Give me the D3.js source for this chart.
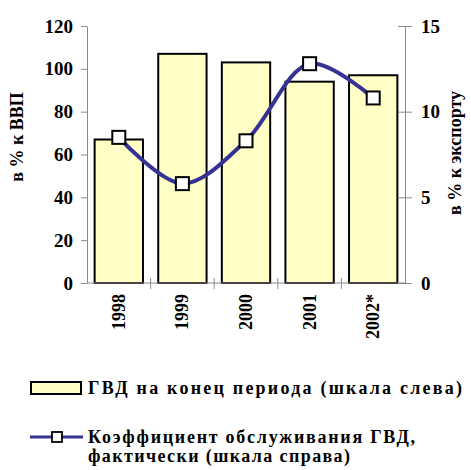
<!DOCTYPE html>
<html>
<head>
<meta charset="utf-8">
<script src="https://cdn.jsdelivr.net/npm/d3@7"></script>
<style>
  html, body { margin: 0; padding: 0; background: #fff; }
  svg { display: block; }
</style>
</head>
<body>
<svg id="chart" width="471" height="470"></svg>
<script>
// Years on the category axis
const years = ["1998", "1999", "2000", "2001", "2002*"];
// External public debt at end of period, % of GDP (left scale)
const debtGdp = [67, 107, 103, 94, 97];
// Debt service ratio, actual, % of exports (right scale)
const serviceRatio = [8.5, 5.8, 8.3, 12.8, 10.8];
// Tick values for both value axes
const leftTicks = [0, 20, 40, 60, 80, 100, 120];
const rightTicks = [0, 5, 10, 15];
// Texts
const leftTitle = "в % к ВВП";
const rightTitle = "в % к экспорту";
const legendBar = "ГВД на конец периода (шкала слева)";
const legendLine1 = "Коэффициент обслуживания ГВД,";
const legendLine2 = "фактически (шкала справа)";

const FONT = "Liberation Serif";
const svg = d3.select("#chart");
const plot = { left: 87, right: 405, top: 26, bottom: 283 };

const x = d3.scaleBand().domain(years).range([plot.left, plot.right]).paddingInner(0.24).paddingOuter(0.12);
const xBoundary = d3.scaleBand().domain(years).range([plot.left, plot.right]);
const yL = d3.scaleLinear().domain([0, 120]).range([plot.bottom, plot.top]);
const yR = d3.scaleLinear().domain([0, 15]).range([plot.bottom, plot.top]);

const axisColor = "#8a8a8a";

function styleText(sel, size) {
  sel.attr("font-family", FONT).attr("font-weight", "bold").attr("font-size", size).attr("fill", "#000")
    .style("font-family", FONT).style("font-weight", "bold").style("font-size", size + "px");
}

// Bars
svg.append("g").selectAll("rect").data(debtGdp).join("rect")
  .attr("x", (d, i) => x(years[i]))
  .attr("width", x.bandwidth())
  .attr("y", d => yL(d))
  .attr("height", d => yL(0) - yL(d))
  .attr("fill", "#ffffc6")
  .attr("stroke", "#000")
  .attr("stroke-width", 2);

// Left axis
const gL = svg.append("g").attr("transform", `translate(${plot.left},0)`)
  .call(d3.axisLeft(yL).tickValues(leftTicks).tickSize(6).tickPadding(8).tickSizeOuter(0));
gL.attr("font-family", FONT);
gL.select(".domain").attr("stroke", axisColor);
gL.selectAll(".tick line").attr("stroke", axisColor);
styleText(gL.selectAll(".tick text"), 19);

// Right axis (ticks cross the axis line)
const gR = svg.append("g").attr("transform", `translate(${plot.right},0)`)
  .call(d3.axisRight(yR).tickValues(rightTicks).tickSize(7).tickPadding(9).tickSizeOuter(0));
gR.attr("font-family", FONT);
gR.select(".domain").attr("stroke", axisColor);
gR.selectAll(".tick line").attr("stroke", axisColor).attr("x1", -7);
styleText(gR.selectAll(".tick text"), 19);

// Category axis: baseline with crossing ticks at category boundaries
const gX = svg.append("g").attr("transform", `translate(0,${plot.bottom})`);
gX.append("line").attr("x1", plot.left).attr("x2", plot.right).attr("stroke", axisColor);
gX.selectAll("line.tk").data(years.slice(1)).join("line").attr("class", "tk")
  .attr("x1", d => xBoundary(d)).attr("x2", d => xBoundary(d))
  .attr("y1", -5).attr("y2", 6).attr("stroke", axisColor);
styleText(gX.selectAll("text").data(years).join("text")
  .attr("transform", d => `translate(${x(d) + x.bandwidth() / 2 + 6},11) rotate(-90)`)
  .attr("text-anchor", "end")
  .text(d => d), 18);

// Axis titles
styleText(svg.append("text")
  .attr("transform", `translate(23,137) rotate(-90)`)
  .attr("text-anchor", "middle")
  .text(leftTitle), 18);
styleText(svg.append("text")
  .attr("transform", `translate(461,153) rotate(-90)`)
  .attr("text-anchor", "middle")
  .text(rightTitle), 18);

// Service ratio line
const lineColor = "#353294";
const line = d3.line()
  .x((d, i) => x(years[i]) + x.bandwidth() / 2)
  .y(d => yR(d))
  .curve(d3.curveCatmullRom.alpha(0.5));
svg.append("path").datum(serviceRatio)
  .attr("d", line)
  .attr("fill", "none")
  .attr("stroke", lineColor)
  .attr("stroke-width", 4);

const ms = 13;
svg.append("g").selectAll("rect").data(serviceRatio).join("rect")
  .attr("x", (d, i) => x(years[i]) + x.bandwidth() / 2 - ms / 2)
  .attr("y", d => yR(d) - ms / 2)
  .attr("width", ms).attr("height", ms)
  .attr("fill", "#fff").attr("stroke", "#000").attr("stroke-width", 2);

// Legend
const lg = svg.append("g");
lg.append("rect").attr("x", 31).attr("y", 382).attr("width", 50).attr("height", 12)
  .attr("fill", "#ffffc6").attr("stroke", "#000").attr("stroke-width", 2);
styleText(lg.append("text").attr("x", 88).attr("y", 394)
  .attr("textLength", 374).attr("lengthAdjust", "spacing").text(legendBar), 18);

lg.append("line").attr("x1", 30).attr("x2", 83).attr("y1", 437).attr("y2", 437)
  .attr("stroke", lineColor).attr("stroke-width", 3);
lg.append("rect").attr("x", 52).attr("y", 432).attr("width", 10).attr("height", 10)
  .attr("fill", "#fff").attr("stroke", "#000").attr("stroke-width", 1.8);
styleText(lg.append("text").attr("x", 88).attr("y", 443)
  .attr("textLength", 327).attr("lengthAdjust", "spacing").text(legendLine1), 18);
styleText(lg.append("text").attr("x", 88).attr("y", 462)
  .attr("textLength", 262).attr("lengthAdjust", "spacing").text(legendLine2), 18);
</script>
</body>
</html>
